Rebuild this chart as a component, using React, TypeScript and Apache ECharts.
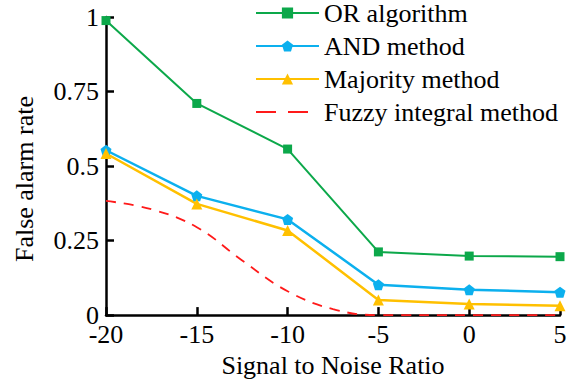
import React, { useEffect, useRef } from "react";
import * as echarts from "echarts";

const snr = [-20, -15, -10, -5, 0, 5];
const orValues = [0.988, 0.71, 0.557, 0.212, 0.198, 0.196];
const andValues = [0.553, 0.4, 0.321, 0.102, 0.085, 0.077];
const majorityValues = [0.542, 0.373, 0.284, 0.051, 0.037, 0.031];
const fuzzyX = [-20, -17.5, -15, -12.5, -10, -7.5, -5, 0, 5];
const fuzzyValues = [0.383, 0.355, 0.295, 0.183, 0.08, 0.02, 0.0, 0.0, 0.0];
const yTicks = [0, 0.25, 0.5, 0.75, 1];

const seriesNames = ["OR algorithm", "AND method", "Majority method", "Fuzzy integral method"];
const font = "Liberation Serif";
const fs = 26;

const pentagon = "path://M0,-1 L0.951,-0.309 L0.588,0.809 L-0.588,0.809 L-0.951,-0.309 Z";

export default function App() {
  const ref = useRef<HTMLDivElement>(null);
  useEffect(() => {
    if (!ref.current) return;
    const chart = echarts.init(ref.current, undefined, { renderer: "svg" });
    const pair = (xs: number[], ys: number[]) => xs.map((x, i) => [x, ys[i]]);
    chart.setOption({
      animation: false,
      backgroundColor: "#fff",
      textStyle: { fontFamily: font },
      grid: { left: 106, right: 20, top: 17, bottom: 67, containLabel: false },
      legend: {
        orient: "vertical",
        left: 255,
        top: 0,
        itemWidth: 63,
        itemHeight: 14,
        itemGap: 7,
        padding: 0,
        textStyle: { fontFamily: font, fontSize: fs, color: "#000", lineHeight: 26 },
        data: [
          seriesNames[0],
          seriesNames[1],
          seriesNames[2],
          { name: seriesNames[3], lineStyle: { type: [20, 12], width: 2 } },
        ],
      },
      xAxis: {
        type: "value",
        min: -20,
        max: 5,
        interval: 5,
        name: "Signal to Noise Ratio",
        nameLocation: "middle",
        nameGap: 36,
        nameTextStyle: { fontFamily: font, fontSize: fs, color: "#000" },
        axisLine: { onZero: false, lineStyle: { color: "#000", width: 2.5 } },
        axisTick: { inside: true, length: 8, lineStyle: { color: "#000", width: 2.5 } },
        axisLabel: { fontFamily: font, fontSize: fs, color: "#000", margin: 6 },
        splitLine: { show: false },
      },
      yAxis: {
        type: "value",
        min: 0,
        max: 1,
        interval: 0.25,
        name: "False alarm rate",
        nameLocation: "middle",
        nameGap: 69,
        nameTextStyle: { fontFamily: font, fontSize: fs, color: "#000", padding: [0, 26, 0, 0] },
        axisLine: { show: true, onZero: false, lineStyle: { color: "#000", width: 2.5 } },
        axisTick: { show: true, inside: true, length: 8, lineStyle: { color: "#000", width: 2.5 } },
        axisLabel: {
          fontFamily: font,
          fontSize: fs,
          color: "#000",
          margin: 7,
          formatter: (v: number) => (yTicks.includes(v) ? String(v) : ""),
        },
        splitLine: { show: false },
      },
      series: [
        {
          name: seriesNames[0],
          type: "line",
          data: pair(snr, orValues),
          symbol: "rect",
          symbolSize: 9,
          lineStyle: { color: "#0ca84a", width: 2 },
          itemStyle: { color: "#0ca84a" },
        },
        {
          name: seriesNames[1],
          type: "line",
          data: pair(snr, andValues),
          symbol: pentagon,
          symbolSize: 11,
          lineStyle: { color: "#0cb0ee", width: 2.5 },
          itemStyle: { color: "#0cb0ee" },
        },
        {
          name: seriesNames[2],
          type: "line",
          data: pair(snr, majorityValues),
          symbol: "triangle",
          symbolSize: 11,
          lineStyle: { color: "#ffc000", width: 2.5 },
          itemStyle: { color: "#ffc000" },
        },
        {
          name: seriesNames[3],
          type: "line",
          data: pair(fuzzyX, fuzzyValues),
          smooth: 0.4,
          showSymbol: false,
          symbol: "circle",
          symbolSize: 0,
          lineStyle: { color: "#ff1a1a", width: 1.8, type: [10, 8] },
          itemStyle: { color: "rgba(0,0,0,0)", borderWidth: 0 },
          z: 1,
        },
      ],
    });
    return () => chart.dispose();
  }, []);
  return <div ref={ref} style={{ width: 580, height: 383, position: "absolute", left: 0, top: 0 }} />;
}
